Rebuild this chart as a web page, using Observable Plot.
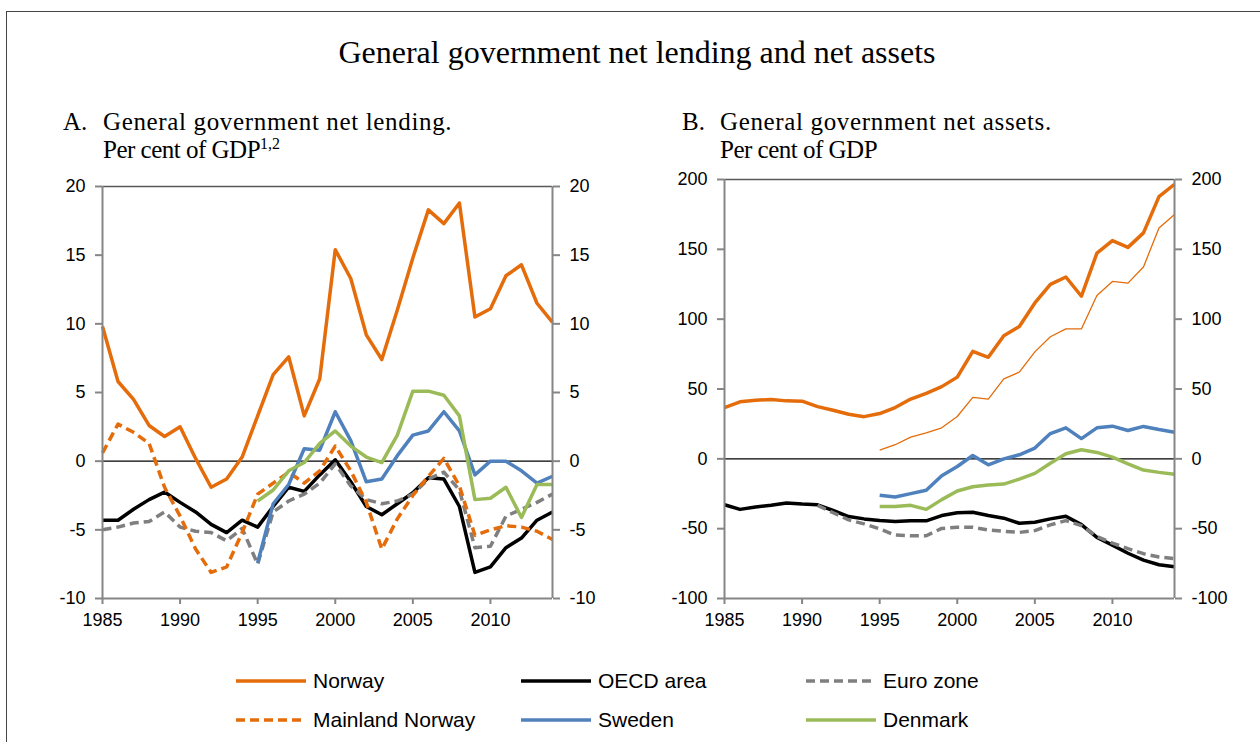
<!DOCTYPE html>
<html>
<head>
<meta charset="utf-8">
<script src="https://cdn.jsdelivr.net/npm/d3@7"></script>
<script src="https://cdn.jsdelivr.net/npm/@observablehq/plot@0.6"></script>
<style>
  html, body { margin: 0; padding: 0; background: #fff; }
  #page { position: relative; width: 1260px; height: 742px; overflow: hidden; background: #fff; }
  #frame { position: absolute; left: 6px; top: 11px; width: 1400px; height: 900px; border-left: 1.5px solid #444; border-top: 1.5px solid #444; }
  .serif { font-family: "Liberation Serif", "Times New Roman", serif; color: #000; position: absolute; white-space: nowrap; }
  #title { left: 0; width: 1274px; text-align: center; top: 36px; font-size: 32px; line-height: 32px; }
  .sub { font-size: 25px; line-height: 28px; }
  .sub .l1 { letter-spacing: 0.65px; }
  .sub .l2 { letter-spacing: -0.5px; }
  .sub sup { font-size: 16px; vertical-align: 0; position: relative; top: -9px; letter-spacing: 0; }
  .chart { position: absolute; }
  .leg { position: absolute; font-family: "Liberation Sans", Arial, sans-serif; font-size: 21px; color: #000; display: flex; align-items: center; white-space: nowrap; }
  .leg svg { margin-right: 7px; }
</style>
</head>
<body>
<div id="page">
  <div id="frame"></div>
  <div id="title" class="serif">General government net lending and net assets</div>
  <div class="serif sub" style="left:63px; top:108px;">A.</div>
  <div class="serif sub" style="left:103px; top:108px;"><span class="l1">General government net lending.</span><br><span class="l2">Per cent of GDP</span><sup>1,2</sup></div>
  <div class="serif sub" style="left:682px; top:108px;">B.</div>
  <div class="serif sub" style="left:720px; top:108px;"><span class="l1">General government net assets.</span><br><span class="l2">Per cent of GDP</span></div>
  <div id="chartA" class="chart" style="left:30px; top:170px;"></div>
  <div id="chartB" class="chart" style="left:650px; top:165px;"></div>
  <div id="legend"></div>
</div>
<script>
// ---- Data ----
const years = [1985,1986,1987,1988,1989,1990,1991,1992,1993,1994,1995,1996,1997,1998,1999,
               2000,2001,2002,2003,2004,2005,2006,2007,2008,2009,2010,2011,2012,2013,2014];
const xTicks = [1985, 1990, 1995, 2000, 2005, 2010];
const yTicksA = [-10, -5, 0, 5, 10, 15, 20];
const yTicksB = [-100, -50, 0, 50, 100, 150, 200];

// Panel A: net lending, per cent of GDP
const norwayA   = [9.8, 5.8, 4.5, 2.6, 1.8, 2.5, 0.2, -1.9, -1.3, 0.3, 3.3, 6.3, 7.6, 3.3, 6.0,
                   15.4, 13.3, 9.2, 7.4, 11.0, 14.8, 18.3, 17.3, 18.8, 10.5, 11.1, 13.5, 14.3, 11.5, 10.1];
const mainlandA = [0.6, 2.7, 2.1, 1.3, -1.9, -4.0, -6.4, -8.1, -7.7, -5.2, -2.4, -1.6, -0.8, -1.6, -0.7,
                   1.1, -0.7, -3.0, -6.4, -4.2, -2.5, -1.1, 0.2, -1.8, -5.4, -5.0, -4.7, -4.8, -5.1, -5.7];
const oecdA     = [-4.3, -4.3, -3.5, -2.8, -2.25, -3.0, -3.7, -4.6, -5.2, -4.3, -4.8, -3.3, -1.9, -2.2, -1.0,
                   0.1, -1.5, -3.3, -3.9, -3.1, -2.3, -1.2, -1.3, -3.3, -8.1, -7.7, -6.3, -5.6, -4.3, -3.7];
const euroA     = [-5.0, -4.8, -4.5, -4.4, -3.7, -4.8, -5.1, -5.2, -5.8, -4.9, -7.5, -3.7, -2.9, -2.4, -1.6,
                   -0.2, -1.8, -2.8, -3.1, -2.9, -2.4, -1.3, -0.8, -2.1, -6.3, -6.2, -4.0, -3.5, -3.0, -2.4];
const swedenA   = [null, null, null, null, null, null, null, null, null, null, -7.4, -3.1, -1.7, 0.9, 0.8,
                   3.6, 1.5, -1.5, -1.3, 0.4, 1.9, 2.2, 3.6, 2.2, -1.0, 0.0, 0.0, -0.7, -1.6, -1.1];
const denmarkA  = [null, null, null, null, null, null, null, null, null, null, -2.9, -2.1, -0.7, -0.1, 1.3,
                   2.2, 1.1, 0.3, -0.1, 1.9, 5.1, 5.1, 4.8, 3.3, -2.8, -2.7, -1.9, -4.1, -1.7, -1.7];

// Panel B: net assets, per cent of GDP
const norwayB     = [36.7, 40.8, 42.0, 42.5, 41.5, 41.3, 37.4, 34.8, 31.9, 30.2, 32.4, 36.7, 42.8, 46.9, 51.7,
                     58.5, 77.0, 72.7, 88.2, 94.7, 111.6, 124.9, 130.2, 116.4, 147.3, 156.3, 151.4, 161.8, 187.7, 196.6];
const norwayThinB = [null, null, null, null, null, null, null, null, null, null, 6.3, 10.1, 15.5, 18.6, 22.2,
                     30.3, 44.0, 42.8, 57.2, 62.1, 76.6, 87.4, 93.0, 93.0, 116.9, 127.0, 125.8, 137.4, 165.2, 174.9];
const oecdB       = [-32.9, -36.2, -34.5, -33.3, -31.6, -32.4, -32.9, -37.0, -41.3, -43.0, -44.2, -44.9, -44.4, -44.4, -40.6,
                     -38.6, -38.2, -40.6, -42.5, -46.1, -45.4, -43.0, -41.1, -47.1, -56.3, -61.8, -67.6, -72.5, -75.8, -77.3];
const euroB       = [null, null, null, null, null, null, -33.3, -38.6, -43.7, -46.6, -50.2, -54.6, -55.1, -55.1, -49.8,
                     -49.0, -49.0, -51.0, -51.9, -52.7, -51.4, -47.3, -44.2, -47.8, -55.6, -60.4, -64.3, -67.9, -70.3, -71.5];
const swedenB     = [null, null, null, null, null, null, null, null, null, null, -26.1, -27.3, -24.9, -22.5, -12.1,
                     -5.5, 2.4, -4.3, 0.0, 2.9, 7.7, 18.1, 22.2, 14.5, 22.2, 23.4, 20.3, 23.2, 21.0, 19.1];
const denmarkB    = [null, null, null, null, null, null, null, null, null, null, -34.1, -34.1, -33.3, -36.2, -29.2,
                     -23.0, -20.0, -18.8, -18.1, -14.5, -10.4, -3.1, 3.6, 6.5, 4.6, 1.2, -3.6, -8.0, -9.7, -11.1];

// Legend
const legendNames = ["Norway", "OECD area", "Euro zone", "Mainland Norway", "Sweden", "Denmark"];

// ---- Styles ----
const C = {
  norway: "#E46C0A", oecd: "#000000", euro: "#7F7F7F",
  sweden: "#4F81BD", denmark: "#9BBB59", axis: "#868686", top: "#595959"
};
const DASH = "9,5";
const LW = 3.5;

function rows(vals) { return years.map((y, i) => ({year: y, value: vals[i]})); }
function ln(vals, stroke, opts = {}) {
  return Plot.line(rows(vals), {x: "year", y: "value", stroke, strokeWidth: LW,
    strokeLinejoin: "round", strokeLinecap: "butt", ...opts});
}

function panel({width, height, mL, mR, mT, mB, yDomain, yTicks, series}) {
  return Plot.plot({
    width, height,
    marginLeft: mL, marginRight: mR, marginTop: mT, marginBottom: mB,
    style: {fontFamily: "'Liberation Sans', Arial, sans-serif", fontSize: "18px", color: "#000",
            background: "transparent", overflow: "visible"},
    x: {domain: [1985, 2014]},
    y: {domain: yDomain},
    marks: [
      Plot.ruleY([yDomain[1]], {stroke: C.top, strokeWidth: 1.5}),
      Plot.ruleY([0], {stroke: "#000", strokeWidth: 1.2}),
      ...series,
      Plot.ruleX([1985, 2014], {stroke: C.axis, strokeWidth: 2}),
      Plot.ruleY([yDomain[0]], {stroke: C.axis, strokeWidth: 2}),
      Plot.axisY({anchor: "left", ticks: yTicks, tickSize: 7, tickPadding: 10, stroke: C.axis, strokeWidth: 2,
                  fill: "#000", tickFormat: d => String(d), label: null}),
      Plot.axisY({anchor: "right", ticks: yTicks, tickSize: 7, tickPadding: 10, stroke: C.axis, strokeWidth: 2,
                  fill: "#000", tickFormat: d => String(d), label: null}),
      Plot.axisX({ticks: xTicks, tickSize: 6, tickPadding: 9, stroke: C.axis, strokeWidth: 2,
                  fill: "#000", tickFormat: d => String(d), label: null})
    ]
  });
}

const chartA = panel({
  width: 590, height: 470, mL: 72, mR: 68, mT: 16, mB: 42,
  yDomain: [-10, 20], yTicks: yTicksA,
  series: [
    ln(norwayA, C.norway),
    ln(oecdA, C.oecd),
    ln(euroA, C.euro, {strokeDasharray: DASH}),
    ln(mainlandA, C.norway, {strokeDasharray: DASH}),
    ln(swedenA, C.sweden),
    ln(denmarkA, C.denmark)
  ]
});
document.getElementById("chartA").appendChild(chartA);

const chartB = panel({
  width: 600, height: 475, mL: 74, mR: 76, mT: 14, mB: 42,
  yDomain: [-100, 200], yTicks: yTicksB,
  series: [
    ln(norwayB, C.norway),
    ln(norwayThinB, C.norway, {strokeWidth: 1.3}),
    ln(oecdB, C.oecd),
    ln(euroB, C.euro, {strokeDasharray: DASH}),
    ln(swedenB, C.sweden),
    ln(denmarkB, C.denmark)
  ]
});
document.getElementById("chartB").appendChild(chartB);

// Legend (HTML below the charts)
const legendStyle = [
  {stroke: C.norway, dash: null}, {stroke: C.oecd, dash: null}, {stroke: C.euro, dash: DASH},
  {stroke: C.norway, dash: DASH}, {stroke: C.sweden, dash: null}, {stroke: C.denmark, dash: null}
];
const legCols = [236, 521, 806];
const legRows = [681, 720];
const legend = document.getElementById("legend");
legendNames.forEach((name, i) => {
  const col = i % 3, row = Math.floor(i / 3);
  const el = document.createElement("div");
  el.className = "leg";
  el.style.left = legCols[col] + "px";
  el.style.top = (legRows[row] - 13) + "px";
  el.style.height = "26px";
  const s = legendStyle[i];
  el.innerHTML = `<svg width="70" height="8"><line x1="0" y1="4" x2="70" y2="4" stroke="${s.stroke}" stroke-width="${LW}" ${s.dash ? `stroke-dasharray="${s.dash}"` : ""}/></svg><span>${name}</span>`;
  legend.appendChild(el);
});
</script>
</body>
</html>
